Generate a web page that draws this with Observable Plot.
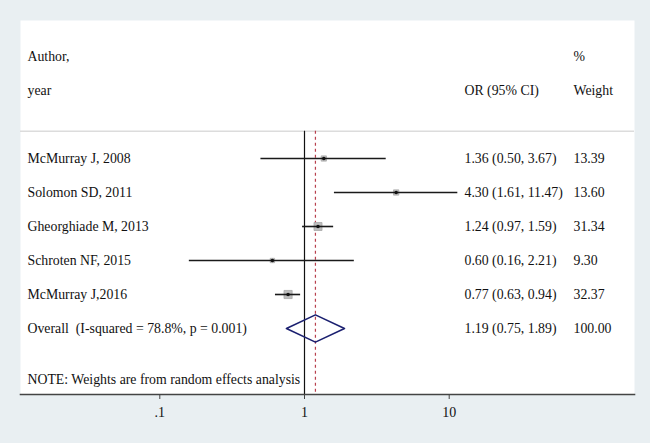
<!DOCTYPE html>
<html>
<head>
<meta charset="utf-8">
<script src="https://cdn.jsdelivr.net/npm/d3@7"></script>
<script src="https://cdn.jsdelivr.net/npm/@observablehq/plot@0.6"></script>
<style>
  html, body { margin: 0; padding: 0; background: #e9eff2; }
  #chart svg { display: block; }
</style>
</head>
<body>
<div id="chart"></div>
<script>
// ---- data ----
const authors = ["McMurray J, 2008", "Solomon SD, 2011", "Gheorghiade M, 2013", "Schroten NF, 2015", "McMurray J,2016"];
const ors = [1.36, 4.30, 1.24, 0.60, 0.77];
const lows = [0.50, 1.61, 0.97, 0.16, 0.63];
const highs = [3.67, 11.47, 1.59, 2.21, 0.94];
const weights = [13.39, 13.60, 31.34, 9.30, 32.37];
const overallLabel = "Overall\u00a0 (I-squared = 78.8%, p = 0.001)";
const overallOR = 1.19, overallLow = 0.75, overallHigh = 1.89, overallWeight = 100.00;
const leftHeaders = ["Author,", "year"];
const orHeader = "OR (95% CI)";
const weightHeaders = ["%", "Weight"];
const note = "NOTE: Weights are from random effects analysis";
const tickValues = [0.1, 1, 10];
const tickLabels = [".1", "1", "10"];

// ---- table ----
const fmt = v => v.toFixed(2);
const studies = authors.map((a, i) => ({
  i, author: a, or: ors[i], lo: lows[i], hi: highs[i], w: weights[i],
  ci: `${fmt(ors[i])} (${fmt(lows[i])}, ${fmt(highs[i])})`,
  wt: fmt(weights[i])
}));
const overallRow = {
  i: authors.length, author: overallLabel, or: overallOR, lo: overallLow, hi: overallHigh,
  ci: `${fmt(overallOR)} (${fmt(overallLow)}, ${fmt(overallHigh)})`, wt: fmt(overallWeight)
};
const rows = [...studies, overallRow];
const dh = 0.4; // diamond half-height in row units
const diamond = [
  {x: overallLow, y: overallRow.i},
  {x: overallOR, y: overallRow.i - dh},
  {x: overallHigh, y: overallRow.i},
  {x: overallOR, y: overallRow.i + dh}
];
const topLine = -0.8, bottomLine = 6.94;
const font = 13.8;
const textColor = "#111";

const chart = Plot.plot({
  width: 650,
  height: 443,
  marginLeft: 20,
  marginRight: 16,
  marginTop: 20,
  marginBottom: 49,
  style: {background: "#e9eff2", fontFamily: "'Liberation Serif', 'Times New Roman', serif", fontSize: "14px", color: textColor},
  x: {type: "log", domain: [0.1, 10], range: [159.3, 448.7]},
  y: {domain: [0, 5], range: [158, 328], axis: null},
  r: {domain: [0, d3.max(weights)], range: [0, 4.6]},
  marks: [
    Plot.frame({fill: "white", stroke: "none"}),
    Plot.ruleY([topLine], {stroke: "#dcdcdc", strokeWidth: 1.6}),
    Plot.ruleX([1], {y1: topLine, y2: bottomLine, stroke: "#111", strokeWidth: 1.2}),
    Plot.ruleX([overallOR], {y1: topLine, y2: bottomLine, stroke: "#b8404e", strokeWidth: 1.2, strokeDasharray: "3,3"}),
    Plot.dot(studies, {x: "or", y: "i", r: "w", symbol: "square", fill: "#bdbdbd", stroke: "#a9a9a9", strokeWidth: 0.8}),
    Plot.ruleY(studies, {x1: "lo", x2: "hi", y: "i", stroke: "#1a1a1a", strokeWidth: 1.6}),
    Plot.dot(studies, {x: "or", y: "i", r: 1.8, fill: "#111", stroke: "none"}),
    Plot.line(diamond, {x: "x", y: "y", curve: "linear-closed", stroke: "#1b2070", strokeWidth: 1.6, fill: "none"}),
    // left column
    Plot.text(leftHeaders, {text: d => d, y: (d, i) => i - 3, frameAnchor: "left", textAnchor: "start", dx: 7, fontSize: font, fill: textColor}),
    Plot.text(rows, {text: "author", y: "i", frameAnchor: "left", textAnchor: "start", dx: 7, fontSize: font, fill: textColor}),
    Plot.text([note], {text: d => d, y: () => 6.5, frameAnchor: "left", textAnchor: "start", dx: 7, fontSize: font, fill: textColor}),
    // OR column
    Plot.text([orHeader], {text: d => d, y: () => -2, frameAnchor: "left", textAnchor: "start", dx: 444, fontSize: font, fill: textColor}),
    Plot.text(rows, {text: "ci", y: "i", frameAnchor: "left", textAnchor: "start", dx: 444, fontSize: font, fill: textColor}),
    // weight column
    Plot.text(weightHeaders, {text: d => d, y: (d, i) => i - 3, frameAnchor: "left", textAnchor: "start", dx: 553, fontSize: font, fill: textColor}),
    Plot.text(rows, {text: "wt", y: "i", frameAnchor: "left", textAnchor: "start", dx: 553, fontSize: font, fill: textColor}),
    // axis
    Plot.frame({anchor: "bottom", stroke: "#444", strokeWidth: 1.6}),
    Plot.axisX({ticks: tickValues, tickFormat: d => tickLabels[tickValues.indexOf(d)], tickSize: 5, tickPadding: 8, fontSize: 14, stroke: "#444", fill: textColor, label: null})
  ]
});
document.getElementById("chart").appendChild(chart);
</script>
</body>
</html>
